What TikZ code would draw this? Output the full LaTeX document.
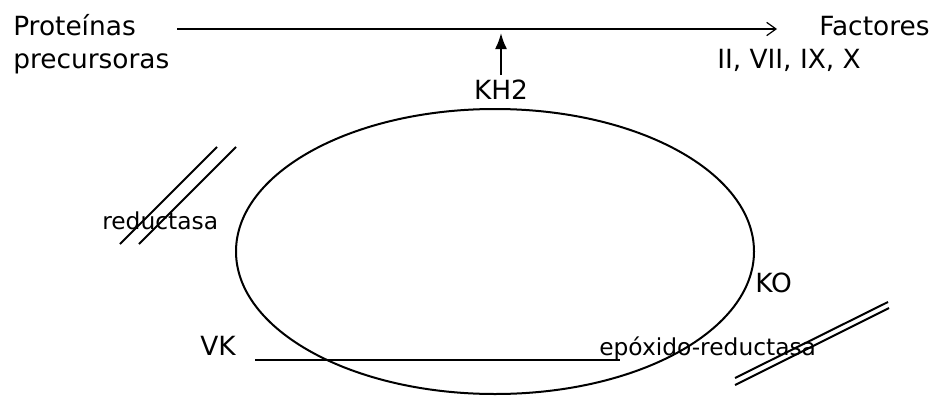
\documentclass[tikz,border=0pt]{standalone}
\usepackage{fontspec}
\setmainfont{DejaVu Sans}
\usetikzlibrary{arrows.meta,positioning,calc}

\tikzset{
  lbl/.style={inner sep=0pt, anchor=base west, font=\fontsize{19.8}{24}\selectfont},
  lblsmall/.style={lbl, font=\fontsize{17.5}{21}\selectfont},
  stroke/.style={line width=1.5pt, black}
}

\begin{document}
\begin{tikzpicture}[x=0.75pt, y=-0.75pt, >=Stealth]
  \useasboundingbox (0,0) rectangle (935,396);

  % labels
  \node[lbl] (prot) at (13,36) {Proteínas};
  \node[lbl] (prec) at (13,68) {precursoras};
  \node[lbl] (fact) at (819,35) {Factores};
  \node[lbl] (roman) at (717,68) {II, VII, IX, X};
  \node[lbl, anchor=base] (kh) at (501,99) {KH2};
  \node[lblsmall] (red) at (102,229) {reductasa};
  \node[lbl] (ko) at (755,292) {KO};
  \node[lbl] (vk) at (200,355) {VK};
  \node[lblsmall] (epo) at (599,355) {epóxido-reductasa};

  % main arrow
  \coordinate (a0) at (177,29);
  \coordinate (a1) at (777,29);
  \draw[stroke, -{Straight Barb[length=7pt, width=10pt, line width=0.9pt]}] (a0) -- (a1);
  \draw[stroke, -{Latex[length=12pt, width=9pt]}] (kh.north) ++(0,-4) -- ($(kh.north |- a0)+(0,4)$);

  % cycle
  \draw[stroke] (495,251.5) ellipse [x radius=259, y radius=142.5];
  \coordinate (v0) at (255,360);
  \coordinate (v1) at (620,360);
  \draw[stroke, line width=1.8pt] (v0) -- (v1);

  % blocked steps
  \draw[stroke] (120,244) -- (217,147);
  \draw[stroke] (139,244) -- (236,147);
  \draw[stroke] (735,378) -- (888,302);
  \draw[stroke] (735,385) -- (889,308);
\end{tikzpicture}
\end{document}
